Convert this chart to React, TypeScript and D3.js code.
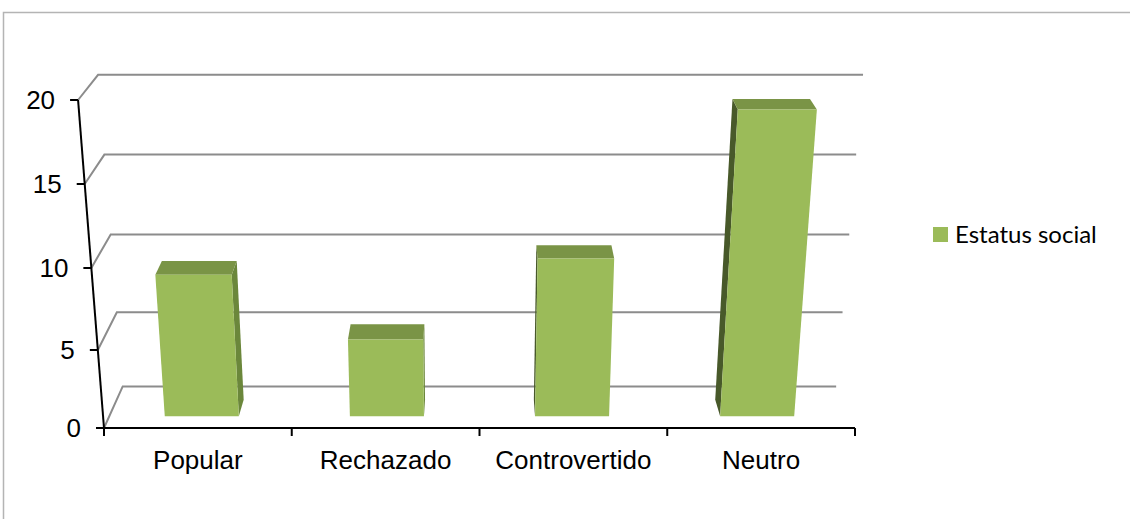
import React from 'react';
import * as d3 from 'd3';

const categories = ['Popular', 'Rechazado', 'Controvertido', 'Neutro'];
const values = [9, 5, 10, 19];
const yTicks = [0, 5, 10, 15, 20];
const seriesName = 'Estatus social';

const W = 1130;
const H = 519;

// perspective helpers: vertical lines meet far below, depth lines meet above
const vertVP = { x: 463, y: 4970 };
const depthVP = { x: 478, y: -404 };
const floorY = 428;
const barFront = 0.014;
const barBack = 0.034;
const wallDepth = 0.05;

const x = d3.scaleBand<string>()
  .domain(categories)
  .range([104, 855])
  .paddingInner(0.6)
  .paddingOuter(0.3);

// the floor is seen in perspective so the ticks are not evenly spaced
const y = d3.scaleLinear()
  .domain(yTicks)
  .range([428, 350, 268, 184, 100]);

const project = (u: number, yy: number, d: number): [number, number] => {
  const k = (vertVP.y - yy) / (vertVP.y - floorY);
  const fx = vertVP.x + (u - vertVP.x) * k;
  return [depthVP.x + (fx - depthVP.x) * (1 - d), depthVP.y + (yy - depthVP.y) * (1 - d)];
};

const poly = (pts: [number, number][]) => d3.line()(pts) + 'Z';

const App = () => {
  const [x0, x1] = x.range();
  const step = x.step();
  const bounds = d3.range(categories.length + 1).map(i => x0 + i * step);

  return (
    <svg width={W} height={H} style={{ position: 'absolute', left: 0, top: 0, background: '#fff' }}>
      {/* chart frame */}
      <path d={`M3.5,${H} V12.5 H${W}`} fill="none" stroke="#b4b4b4" strokeWidth={1.5} />

      {/* walls */}
      {yTicks.map(t => {
        const pts = [project(x0, y(t), 0), project(x0, y(t), wallDepth), project(x1, y(t), wallDepth)];
        return <path key={t} d={d3.line()(pts) || ''} fill="none" stroke="#8c8c8c" strokeWidth={2} />;
      })}

      {/* bars */}
      {categories.map((c, i) => {
        const v = values[i];
        const a = x(c)!;
        const b = a + x.bandwidth();
        const top = y(v);
        const base = y(0);
        const front = poly([project(a, base, barFront), project(b, base, barFront), project(b, top, barFront), project(a, top, barFront)]);
        const lid = poly([project(a, top, barFront), project(b, top, barFront), project(b, top, barBack), project(a, top, barBack)]);
        const leftSide = a + x.bandwidth() / 2 > depthVP.x;
        const e = leftSide ? a : b;
        const side = poly([project(e, base, barFront), project(e, top, barFront), project(e, top, barBack), project(e, base, barBack)]);
        return (
          <g key={c}>
            <path d={side} fill={leftSide ? '#48592a' : '#6b873b'} />
            <path d={lid} fill="#7a9446" />
            <path d={front} fill="#9bbb59" />
          </g>
        );
      })}

      {/* y axis */}
      <path d={d3.line()([project(x0, y(0), 0), project(x0, y(20), 0)]) || ''} stroke="#000" strokeWidth={2} fill="none" />
      {yTicks.map(t => {
        const [px, py] = project(x0, y(t), 0);
        return (
          <g key={t}>
            <line x1={px - 8} x2={px} y1={py} y2={py} stroke="#000" strokeWidth={2} />
            <text x={px - 23} y={py} dy="0.36em" textAnchor="end" fontFamily="'Liberation Sans', Arial, sans-serif" fontSize={26} fill="#000">{t}</text>
          </g>
        );
      })}

      {/* x axis */}
      <line x1={x0} x2={x1} y1={floorY} y2={floorY} stroke="#000" strokeWidth={2} />
      {bounds.map((bx, i) => (
        <line key={i} x1={bx} x2={bx} y1={floorY} y2={floorY + 8} stroke="#000" strokeWidth={2} />
      ))}
      {categories.map(c => (
        <text key={c} x={x(c)! + x.bandwidth() / 2} y={469} textAnchor="middle" fontFamily="'Liberation Sans', Arial, sans-serif" fontSize={26} fill="#000">{c}</text>
      ))}

      {/* legend */}
      <rect x={933} y={227} width={15} height={15} fill="#9bbb59" />
      <text x={955} y={243} fontFamily="Lato, 'Open Sans', sans-serif" fontSize={24} fill="#000">{seriesName}</text>
    </svg>
  );
};

export default App;
